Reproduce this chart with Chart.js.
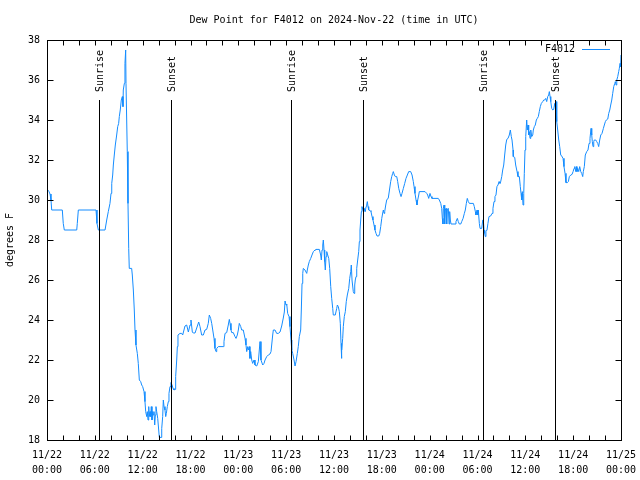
<!DOCTYPE html>
<html><head><meta charset="utf-8">
<script src="https://cdn.jsdelivr.net/npm/chart.js@4.4.1/dist/chart.umd.min.js"></script>
<style>html,body{margin:0;padding:0;background:#fff}canvas{display:block}</style>
</head><body>
<canvas id="c" width="640" height="480"></canvas>
<script>
const titleText = 'Dew Point for F4012 on 2024-Nov-22 (time in UTC)';
const yTitle = 'degrees F';
const seriesName = 'F4012';
const tickDates = ['11/22','11/22','11/22','11/22','11/23','11/23','11/23','11/23','11/24','11/24','11/24','11/24','11/25'];
const tickTimes = ['00:00','06:00','12:00','18:00','00:00','06:00','12:00','18:00','00:00','06:00','12:00','18:00','00:00'];
const yTicks = [18,20,22,24,26,28,30,32,34,36,38];
const sunNames = ['Sunrise','Sunset','Sunrise','Sunset','Sunrise','Sunset'];
const sunHours = [6.52,15.59,30.64,39.67,54.75,63.66];

// hours since 2024-11-22 00:00 UTC
const hours = [0.1,0.25,0.38,0.50,0.59,1.92,2.04,2.17,3.73,3.80,3.93,6.15,6.27,6.44,7.28,7.49,7.69,7.90,8.03,8.12,8.24,8.32,8.44,8.57,8.74,8.87,8.99,9.07,9.19,9.32,9.45,9.53,9.57,9.70,9.78,9.87,9.91,10.07,10.16,10.25,10.32,10.62,10.70,10.83,10.95,11.04,11.16,11.33,11.45,11.58,11.75,11.88,12.00,12.17,12.29,12.38,12.51,12.58,12.67,12.76,12.83,12.92,13.01,13.08,13.17,13.26,13.33,13.42,13.51,13.59,13.67,13.76,13.89,14.01,14.09,14.30,14.39,14.51,14.59,14.68,14.80,14.89,14.97,15.09,15.22,15.30,15.43,15.55,15.68,15.81,15.93,16.06,16.14,16.27,16.35,16.43,16.68,16.90,17.02,17.31,17.52,17.73,17.94,18.06,18.23,18.35,18.57,18.78,19.03,19.19,19.40,19.61,19.82,20.03,20.23,20.36,20.53,20.66,20.79,20.95,21.07,21.20,21.29,21.49,22.12,22.20,22.33,22.54,22.74,22.87,22.96,23.08,23.17,23.37,23.58,23.71,23.87,24.00,24.12,24.30,24.42,24.62,24.75,24.84,24.96,25.05,25.18,25.25,25.38,25.46,25.55,25.68,25.80,25.97,26.09,26.31,26.51,26.72,26.84,27.06,27.22,27.35,27.56,27.76,27.97,28.10,28.31,28.39,28.60,28.81,29.01,29.23,29.44,29.64,29.77,29.86,29.98,30.07,30.19,30.36,30.48,30.61,30.70,30.82,30.99,31.11,31.24,31.40,31.52,31.65,31.82,31.90,31.99,32.08,32.15,32.36,32.58,32.65,32.78,32.90,33.08,33.24,33.41,33.62,33.74,34.16,34.33,34.41,34.50,34.59,34.66,34.75,34.83,34.91,35.00,35.09,35.21,35.34,35.46,35.59,35.71,35.84,35.91,36.16,36.34,36.42,36.54,36.67,36.79,36.88,36.92,37.00,37.09,37.17,37.29,37.42,37.54,37.67,37.85,37.97,38.10,38.17,38.26,38.35,38.42,38.51,38.60,38.67,38.76,38.85,38.97,39.10,39.18,39.26,39.35,39.43,39.51,39.64,39.73,39.80,39.93,40.02,40.10,40.18,40.27,40.35,40.52,40.64,40.77,40.89,41.02,41.14,41.27,41.40,41.61,41.73,41.86,41.99,42.11,42.19,42.28,42.36,42.49,42.61,42.81,42.94,43.11,43.24,43.36,43.44,43.57,43.69,43.87,43.99,44.12,44.28,44.41,44.53,44.70,44.87,45.03,45.20,45.37,45.62,45.79,45.95,46.04,46.16,46.29,46.41,46.50,46.63,46.70,47.42,47.63,47.75,47.88,48.04,48.17,48.29,49.08,49.21,49.39,49.51,49.59,49.67,49.71,49.80,49.89,49.96,50.05,50.14,50.21,50.34,50.43,50.51,50.59,50.68,51.18,51.30,51.47,51.59,51.72,51.90,52.02,52.19,52.35,52.47,52.60,52.72,52.85,52.98,53.48,53.60,53.73,53.81,53.94,54.03,54.10,54.23,54.32,54.53,54.66,54.73,54.82,54.90,54.98,55.06,55.19,55.31,55.44,55.65,55.82,55.94,56.07,56.19,56.32,56.44,56.57,56.70,56.82,56.91,57.04,57.16,57.29,57.41,57.54,57.67,57.83,57.99,58.12,58.24,58.33,58.46,58.49,58.67,58.79,58.96,59.08,59.25,59.37,59.46,59.55,59.62,59.71,59.80,59.87,59.96,60.05,60.17,60.25,60.34,60.42,60.50,60.59,60.68,60.80,60.93,61.00,61.13,61.25,61.38,61.50,61.63,61.75,61.88,62.01,62.18,62.31,62.43,62.56,62.68,62.81,62.93,63.01,63.10,63.19,63.31,63.44,63.56,63.69,63.76,63.85,63.94,64.06,64.19,64.31,64.44,64.56,64.73,64.85,64.98,65.10,65.27,65.40,65.52,65.70,65.86,65.99,66.11,66.20,66.33,66.40,66.48,66.57,66.70,66.82,66.95,67.07,67.20,67.27,67.40,67.52,67.70,67.86,67.99,68.11,68.24,68.33,68.40,68.49,68.58,68.65,68.83,68.95,69.08,69.20,69.33,69.46,69.62,69.79,69.91,70.04,70.16,70.34,70.46,70.59,70.71,70.84,70.96,71.09,71.22,71.29,71.38,71.47,71.59,71.71,71.79,71.88,71.96,72.00];

const dewPoint = [30.5,30.42,30.3,30.0,29.5,29.5,28.83,28.5,28.5,28.83,29.5,29.5,28.83,28.5,28.5,29.0,29.42,29.83,30.33,30.83,31.25,31.75,32.25,32.75,33.25,33.67,33.83,34.17,34.5,35.0,35.17,34.67,35.5,35.83,36.83,37.5,35.83,32.42,29.83,27.58,26.58,26.58,26.25,25.5,24.5,23.5,22.75,22.33,21.83,21.0,20.92,20.75,20.67,20.42,19.92,19.42,19.17,19.42,19.0,19.67,19.17,19.42,19.17,19.67,19.0,19.42,19.25,19.42,18.75,19.25,19.67,19.42,19.08,18.5,18.13,18.13,18.58,19.17,20.0,19.67,19.5,19.17,19.33,19.67,19.92,20.33,20.67,20.87,20.75,20.58,20.5,20.53,21.17,22.0,22.67,23.25,23.33,23.33,23.25,23.7,23.75,23.4,23.75,24.0,23.4,23.35,23.35,23.6,23.9,23.67,23.25,23.25,23.5,23.53,23.83,24.25,24.08,23.83,23.5,23.08,22.58,22.42,22.58,22.67,22.67,22.92,23.33,23.37,23.75,24.03,23.83,23.5,23.37,23.37,23.17,23.08,23.25,23.5,23.83,23.67,23.5,23.5,23.25,23.08,22.75,22.42,22.67,22.5,22.67,22.08,22.42,22.0,21.83,22.0,21.75,21.7,21.92,22.92,22.0,21.75,21.83,22.0,22.17,22.25,22.3,22.42,23.25,23.5,23.5,23.33,23.33,23.4,23.7,24.1,24.4,24.95,24.75,24.8,24.33,24.17,23.67,23.0,22.5,22.33,22.0,21.7,21.92,22.33,22.67,23.17,23.5,24.5,25.83,26.33,26.58,26.5,26.33,26.5,26.75,26.92,27.08,27.25,27.42,27.5,27.53,27.53,27.25,27.0,27.5,27.75,28.0,27.5,26.92,26.5,27.17,27.42,27.25,27.08,26.58,25.67,25.08,24.58,24.25,24.25,24.58,24.75,24.67,24.42,23.83,22.83,22.08,22.5,23.08,23.67,24.17,24.42,24.92,25.25,25.58,26.08,26.42,26.75,26.0,26.0,25.42,25.33,25.75,26.0,26.17,26.58,27.0,27.42,27.92,28.5,29.0,29.42,29.67,29.5,29.42,29.58,29.42,29.67,29.75,29.92,29.67,29.5,29.47,29.42,29.17,29.0,28.75,28.5,28.33,28.2,28.2,28.33,28.67,29.08,29.35,29.5,29.33,29.42,29.75,30.0,30.1,30.45,30.92,31.17,31.33,31.42,31.25,31.17,31.17,30.92,30.58,30.33,30.17,30.33,30.58,30.83,31.08,31.25,31.42,31.42,31.25,30.92,30.67,30.33,30.0,29.75,30.0,30.25,30.42,30.42,30.33,30.25,30.08,30.33,30.17,30.08,30.08,30.0,29.83,29.58,29.08,28.8,29.58,29.75,28.8,29.5,29.58,28.8,29.5,29.58,28.8,29.42,29.0,28.8,28.8,28.92,29.08,28.92,28.8,28.8,28.92,29.08,29.33,29.5,29.83,30.08,29.92,29.83,29.83,29.67,29.42,29.25,29.5,29.25,29.5,28.83,28.58,28.58,29.0,29.0,28.5,28.33,28.17,28.42,28.5,28.83,29.17,29.2,29.33,29.58,29.92,30.17,30.25,30.67,30.75,30.92,30.83,30.92,31.17,31.5,31.75,32.25,32.75,33.03,33.08,33.25,33.5,33.17,33.0,32.5,32.17,32.13,31.75,31.42,31.17,31.17,30.67,30.33,30.0,30.42,29.75,30.33,31.33,32.5,33.17,34.0,33.5,33.75,33.25,33.42,33.08,33.5,33.17,33.25,33.5,33.67,33.75,34.0,34.08,34.17,34.42,34.67,34.83,34.92,35.0,35.0,35.08,34.92,35.17,35.25,35.42,35.17,34.92,34.58,34.5,34.53,34.83,34.67,34.92,33.92,33.5,33.0,32.67,32.25,32.2,32.08,31.67,31.33,30.87,30.87,30.92,31.17,31.25,31.28,31.42,31.58,31.67,31.42,31.67,31.42,31.58,31.42,31.67,31.42,31.33,31.17,31.42,31.67,32.25,32.42,32.5,32.83,33.08,33.58,33.25,32.92,32.67,32.92,33.0,33.0,32.92,32.83,32.67,33.0,33.25,33.33,33.58,33.75,33.92,34.0,34.05,34.33,34.5,34.75,35.0,35.33,35.67,35.83,35.92,35.75,36.0,36.17,36.42,36.58,36.83,36.67,37.25];

const LINE_COLOR = 'rgb(20,140,255)';
const FONT = '10px "DejaVu Sans Mono", monospace';

const overlay = {
  id: 'overlay',
  afterDatasetsDraw(chart) {
    const ctx = chart.ctx, a = chart.chartArea, xs = chart.scales.x, ys = chart.scales.y;
    ctx.save();
    ctx.strokeStyle = '#000';
    ctx.fillStyle = '#000';
    ctx.lineWidth = 1;
    ctx.font = FONT;
    // sunrise / sunset markers
    sunHours.forEach((h, i) => {
      const px = Math.round(xs.getPixelForValue(h)) + 0.5;
      ctx.beginPath(); ctx.moveTo(px, a.top + 60); ctx.lineTo(px, a.bottom); ctx.stroke();
      ctx.save();
      ctx.translate(px + 1, a.top + 52);
      ctx.rotate(-Math.PI / 2);
      ctx.textAlign = 'left'; ctx.textBaseline = 'middle';
      ctx.fillText(sunNames[i], 0, 0);
      ctx.restore();
    });
    // border
    const L = Math.round(a.left) + 0.5, R = Math.round(a.right) + 0.5, T = Math.round(a.top) + 0.5, B = Math.round(a.bottom) + 0.5;
    ctx.strokeRect(L, T, R - L, B - T);
    // x ticks every 2 hours, inward, top and bottom
    ctx.beginPath();
    for (let h = xs.min; h <= xs.max; h += 2) {
      const px = Math.round(xs.getPixelForValue(h)) + 0.5;
      ctx.moveTo(px, B); ctx.lineTo(px, B - 5);
      ctx.moveTo(px, T); ctx.lineTo(px, T + 5);
    }
    yTicks.forEach(v => {
      const py = Math.round(ys.getPixelForValue(v)) + 0.5;
      ctx.moveTo(L, py); ctx.lineTo(L + 6, py);
      ctx.moveTo(R, py); ctx.lineTo(R - 6, py);
    });
    ctx.stroke();
    // title
    ctx.textAlign = 'center'; ctx.textBaseline = 'middle';
    ctx.fillText(titleText, (a.left + a.right) / 2, 20);
    // y title
    ctx.save();
    ctx.translate(10, (a.top + a.bottom) / 2);
    ctx.rotate(-Math.PI / 2);
    ctx.fillText(yTitle, 0, 0);
    ctx.restore();
    // legend
    ctx.textAlign = 'right';
    ctx.fillText(seriesName, a.right - 46, a.top + 9);
    ctx.strokeStyle = LINE_COLOR;
    ctx.beginPath(); ctx.moveTo(a.right - 39, a.top + 9.5); ctx.lineTo(a.right - 11, a.top + 9.5); ctx.stroke();
    ctx.restore();
  }
};

new Chart(document.getElementById('c'), {
  type: 'line',
  data: {
    datasets: [{
      label: seriesName,
      data: hours.map((h, i) => ({ x: h, y: dewPoint[i] })),
      borderColor: LINE_COLOR,
      borderWidth: 1,
      pointRadius: 0,
      tension: 0,
      fill: false
    }]
  },
  options: {
    responsive: false,
    animation: false,
    devicePixelRatio: 1,
    layout: { padding: { left: 0, right: 19, top: 40, bottom: 0 } },
    plugins: { legend: { display: false }, title: { display: false }, tooltip: { enabled: false } },
    scales: {
      x: {
        type: 'linear', min: 0, max: 72,
        afterFit(s) { s.height = 40; s.paddingLeft = 0; s.paddingRight = 0; },
        grid: { display: false, drawTicks: false },
        border: { display: false },
        ticks: {
          stepSize: 6, autoSkip: false, maxRotation: 0, padding: 8, color: '#000',
          font: { family: 'DejaVu Sans Mono', size: 10, lineHeight: 1.5 },
          callback: (v, i) => [tickDates[i], tickTimes[i]]
        }
      },
      y: {
        type: 'linear', min: 18, max: 38,
        afterFit(s) { s.width = 47; s.paddingTop = 0; s.paddingBottom = 0; },
        grid: { display: false, drawTicks: false },
        border: { display: false },
        ticks: {
          stepSize: 2, padding: 7, color: '#000',
          font: { family: 'DejaVu Sans Mono', size: 10 }
        }
      }
    }
  },
  plugins: [overlay]
});
</script>
</body></html>
